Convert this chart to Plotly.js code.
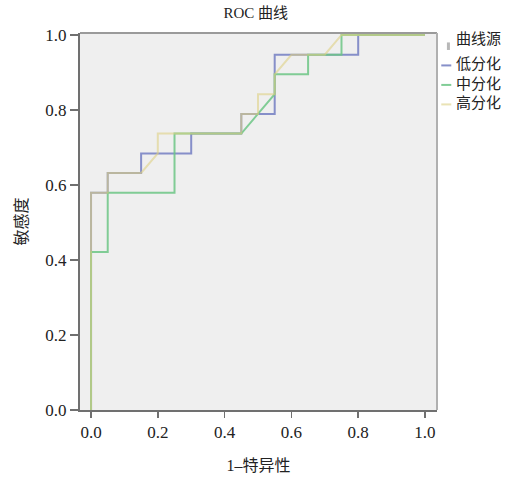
<!DOCTYPE html>
<html>
<head>
<meta charset="utf-8">
<script src="https://cdn.plot.ly/plotly-3.0.1.min.js"></script>
<style>html,body{margin:0;padding:0;background:#fff;}#chart{width:525px;height:480px;}</style>
</head>
<body>
<div id="chart"></div>
<script>
// Data (1 - specificity vs sensitivity)
const seriesNames = ["低分化", "中分化", "高分化"];
const legendTitle = "曲线源";

const fprLow  = [0, 0, 0.05, 0.05, 0.15, 0.15, 0.30, 0.30, 0.45, 0.45, 0.55, 0.55, 0.80, 0.80, 1.0];
const tprLow  = [0, 0.579, 0.579, 0.632, 0.632, 0.684, 0.684, 0.737, 0.737, 0.789, 0.789, 0.947, 0.947, 1.0, 1.0];

const fprMid  = [0, 0, 0.05, 0.05, 0.25, 0.25, 0.45, 0.55, 0.55, 0.65, 0.65, 0.75, 0.75, 1.0];
const tprMid  = [0, 0.421, 0.421, 0.579, 0.579, 0.737, 0.737, 0.842, 0.895, 0.895, 0.947, 0.947, 1.0, 1.0];

const fprHigh = [0, 0, 0.05, 0.05, 0.15, 0.20, 0.20, 0.45, 0.45, 0.50, 0.50, 0.55, 0.55, 0.60, 0.70, 0.75, 1.0];
const tprHigh = [0, 0.579, 0.579, 0.632, 0.632, 0.684, 0.737, 0.737, 0.789, 0.789, 0.842, 0.842, 0.895, 0.947, 0.947, 1.0, 1.0];

const tickVals = [0, 0.2, 0.4, 0.6, 0.8, 1.0];
const tickText = ["0.0", "0.2", "0.4", "0.6", "0.8", "1.0"];

const colors = ["#7a84c4", "#6cc585", "#ddd184"];
const opac = [0.9, 0.85, 0.6];

const serif = "Liberation Serif, Noto Sans CJK SC, serif";
const cjk = "Noto Sans CJK SC, sans-serif";

const xs = [fprLow, fprMid, fprHigh];
const ys = [tprLow, tprMid, tprHigh];

const traces = xs.map((x, i) => ({
  x: x, y: ys[i], type: "scatter", mode: "lines",
  name: seriesNames[i], showlegend: false,
  line: {color: colors[i], width: 2},
  opacity: opac[i],
  hoverinfo: "skip"
}));

// Manual legend (short line samples like the SPSS output)
// plot area spans 377 px in height; entries are ~19.5 px apart
const rowStep = 19.5 / 377;
const firstEntryY = 0.926;
const annotations = [
  {text: legendTitle, xref: "paper", yref: "paper", x: 1.05, y: 0.988, xanchor: "left", yanchor: "middle",
   showarrow: false, borderpad: 0, font: {family: cjk, size: 15, color: "#222"}},
  {text: seriesNames.join("<br>"), xref: "paper", yref: "paper", x: 1.05,
   y: firstEntryY + rowStep * 0.5, xanchor: "left", yanchor: "top", align: "left",
   showarrow: false, borderpad: 0, font: {family: cjk, size: 15, color: "#222"}}
];
const shapes = [
  // top and right frame edges
  {type: "line", xref: "paper", yref: "paper", x0: 0, x1: 1, y0: 1, y1: 1, line: {color: "#9a9a9a", width: 2}},
  {type: "line", xref: "paper", yref: "paper", x0: 1, x1: 1, y0: 0, y1: 1, line: {color: "#b0b0b0", width: 2}},
  // small grey marker next to legend title
  {type: "line", xref: "paper", yref: "paper", x0: 1.032, x1: 1.032, y0: 0.955, y1: 0.975, line: {color: "#b8b8b8", width: 3}}
];
seriesNames.forEach((n, i) => {
  const yy = firstEntryY - rowStep * i - 0.012;
  shapes.push({type: "line", xref: "paper", yref: "paper", x0: 1.012, x1: 1.04, y0: yy, y1: yy,
    line: {color: colors[i], width: 2}, opacity: opac[i]});
});

const layout = {
  width: 525, height: 480,
  margin: {l: 80, r: 88, t: 33, b: 70, pad: 0},
  paper_bgcolor: "#ffffff",
  plot_bgcolor: "#efefef",
  title: {text: "ROC 曲线", x: 0.487, xanchor: "center", y: 0.985, yanchor: "top",
          font: {family: serif, size: 15, color: "#222"}},
  xaxis: {
    range: [-0.033, 1.036], tickvals: tickVals, ticktext: tickText,
    showgrid: false, zeroline: false, showline: true, linecolor: "#707070", linewidth: 2,
    ticks: "outside", ticklen: 6, tickwidth: 1.5, tickcolor: "#707070",
    tickfont: {family: serif, size: 17, color: "#222"},
    title: {text: "1–特异性", font: {family: serif, size: 16, color: "#222"}, standoff: 18}
  },
  yaxis: {
    range: [0, 1.005], tickvals: tickVals, ticktext: tickText,
    showgrid: false, zeroline: false, showline: true, linecolor: "#707070", linewidth: 2,
    ticks: "outside", ticklen: 8, tickwidth: 1.5, tickcolor: "#707070",
    tickfont: {family: serif, size: 17, color: "#222"},
    title: {text: "敏感度", font: {family: cjk, size: 16, color: "#222"}, standoff: 14}
  },
  annotations: annotations,
  shapes: shapes
};

Plotly.newPlot("chart", traces, layout, {displayModeBar: false, staticPlot: true});
</script>
</body>
</html>
